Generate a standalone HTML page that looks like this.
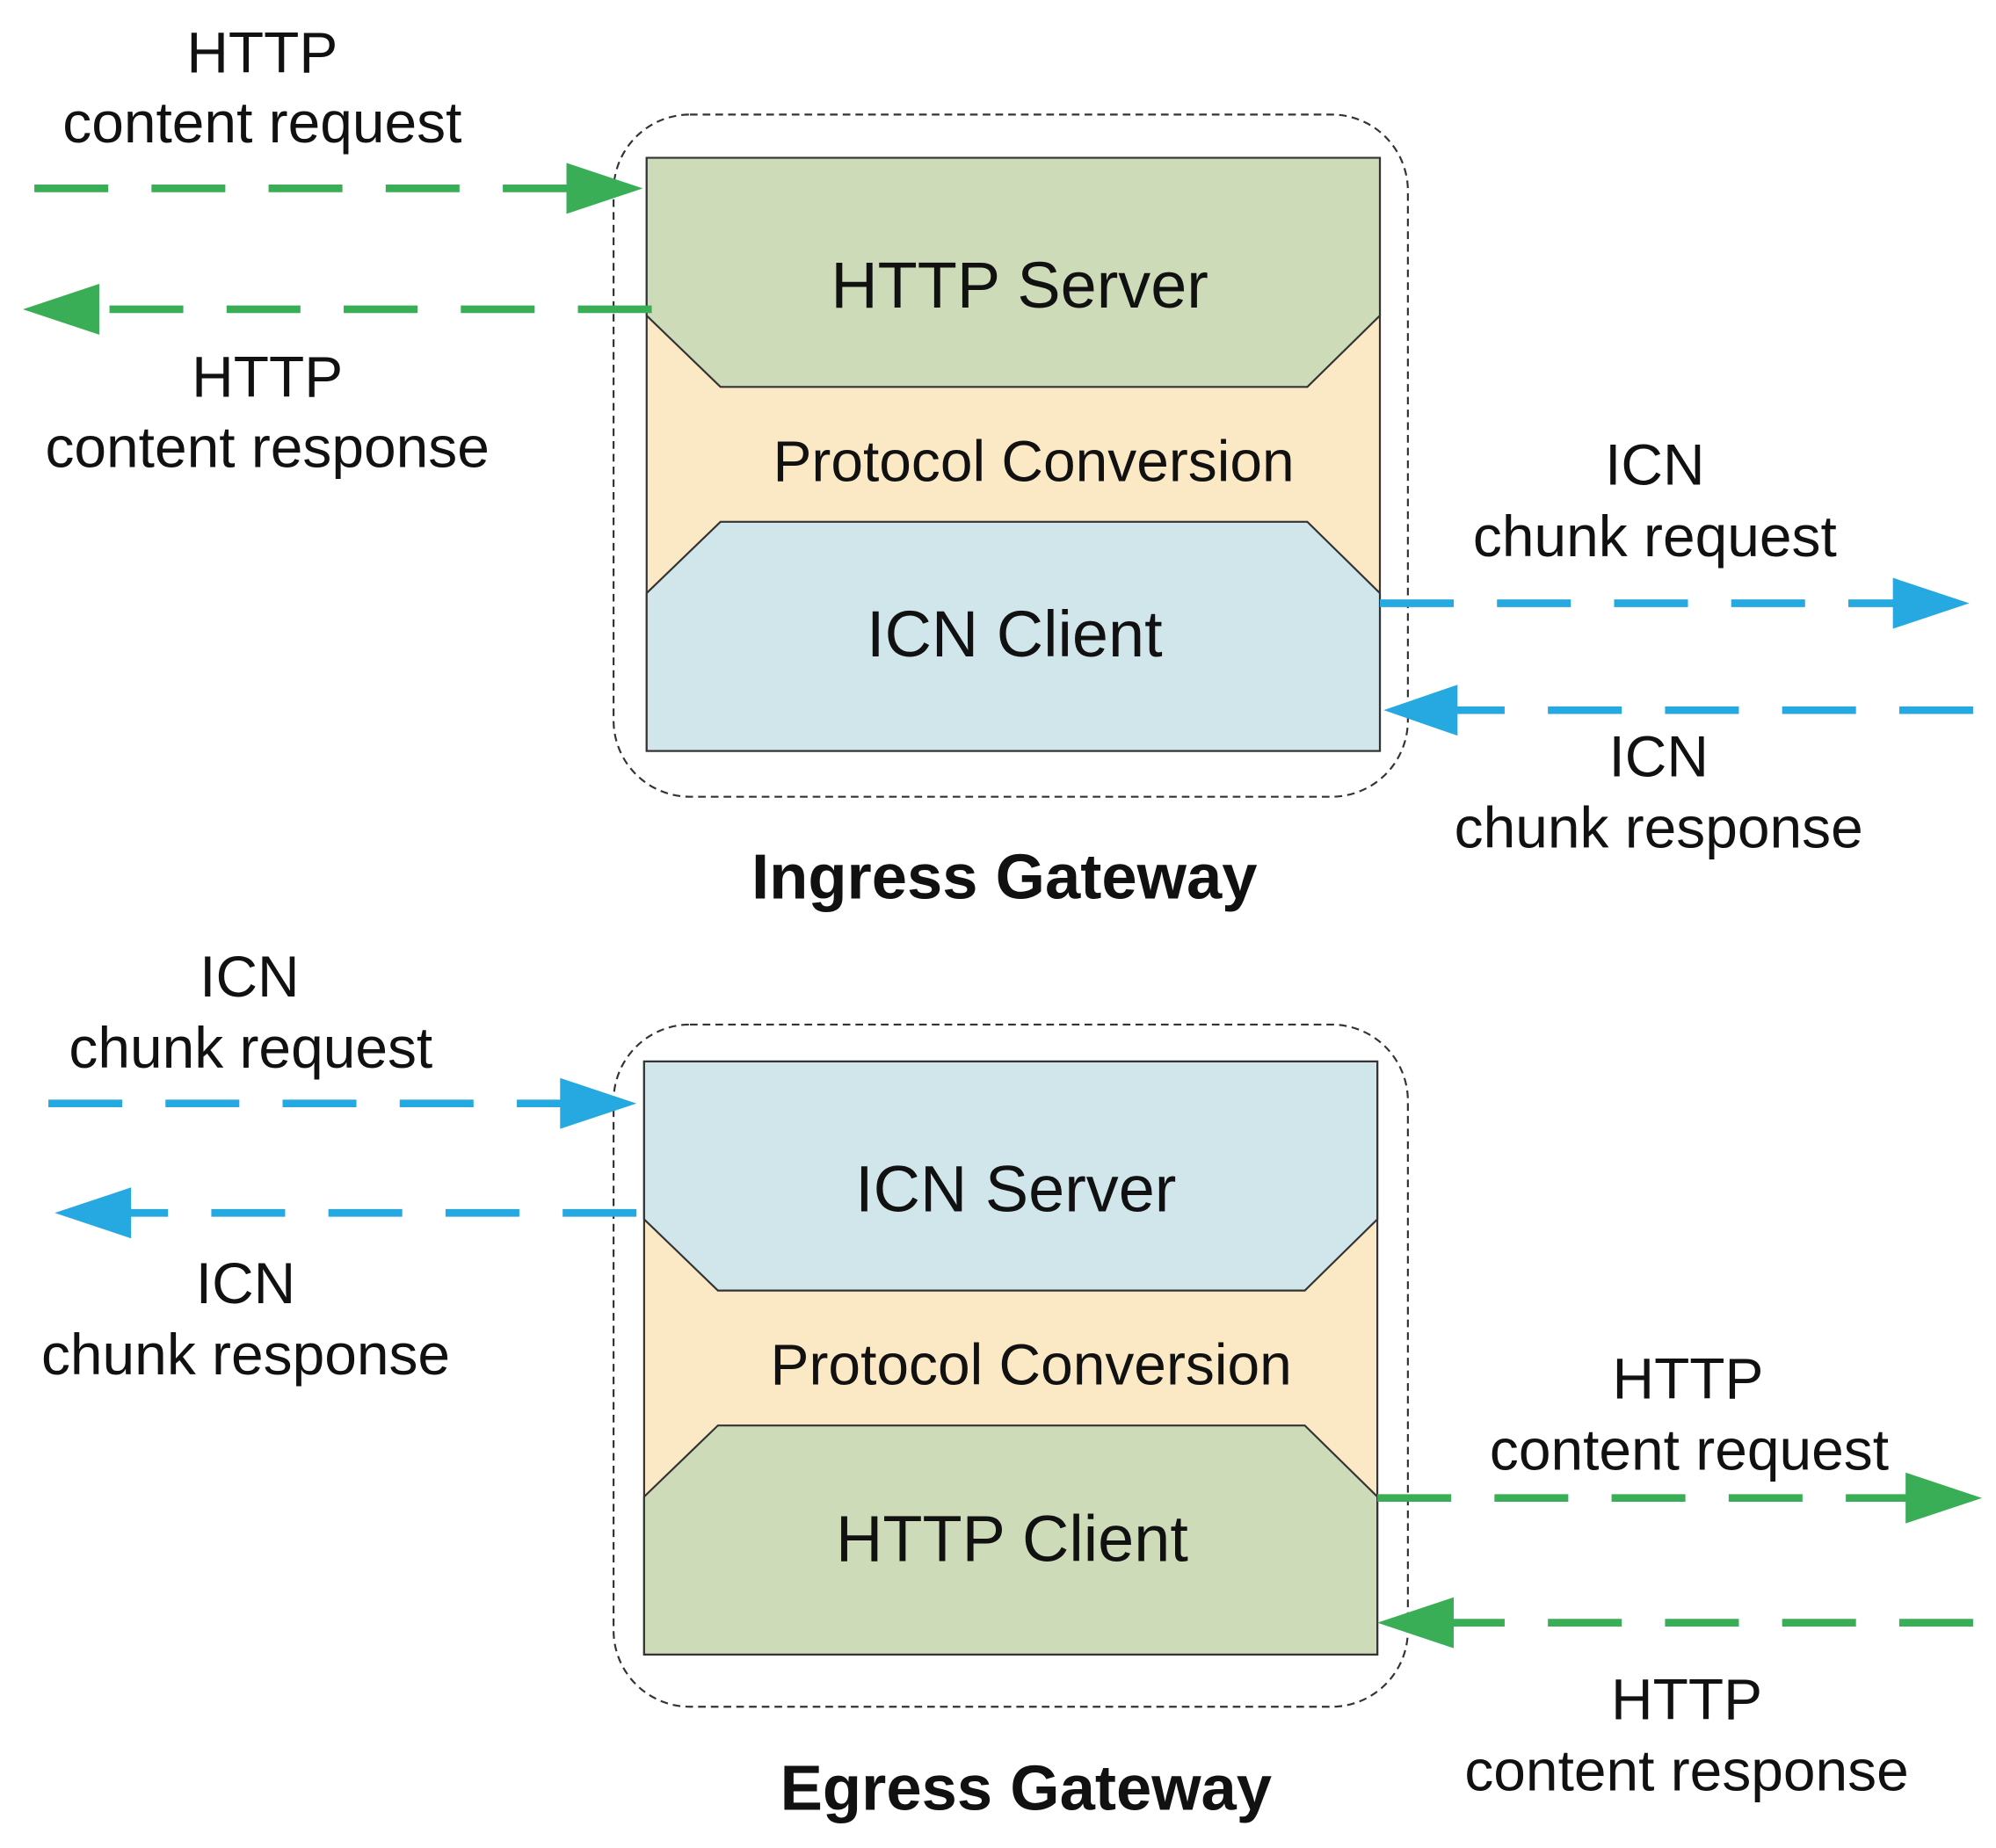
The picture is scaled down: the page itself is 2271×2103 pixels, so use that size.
<!DOCTYPE html>
<html><head><meta charset="utf-8"><style>html,body{margin:0;padding:0;background:#fff}svg{display:block}</style></head>
<body>
<svg width="2271" height="2103" viewBox="0 0 1568 1452" preserveAspectRatio="none" xmlns="http://www.w3.org/2000/svg" font-family="Liberation Sans, Arial, sans-serif">
<g fill="none" stroke="#333" stroke-width="1.5" stroke-dasharray="6,4">
<rect x="482" y="90" width="624" height="536" rx="60"/>
<rect x="482" y="805" width="624" height="536" rx="60"/>
</g>
<rect x="508" y="124" width="576" height="466" fill="#fbe8c4" stroke="#333" stroke-width="1.5"/>
<polygon points="508,124 1084,124 1084,248 1027,304 566,304 508,248" fill="#cddbb9" stroke="#333" stroke-width="1.5"/>
<polygon points="508,466 566,410 1027,410 1084,466 1084,590 508,590" fill="#d0e6eb" stroke="#333" stroke-width="1.5"/>
<rect x="506" y="834" width="576" height="466" fill="#fbe8c4" stroke="#333" stroke-width="1.5"/>
<polygon points="506,834 1082,834 1082,958 1025,1014 564,1014 506,958" fill="#d0e6eb" stroke="#333" stroke-width="1.5"/>
<polygon points="506,1176 564,1120 1025,1120 1082,1176 1082,1300 506,1300" fill="#cddbb9" stroke="#333" stroke-width="1.5"/>

<g fill="#111" text-anchor="middle" dominant-baseline="central">
<text x="801" y="224" font-size="51">HTTP Server</text>
<text x="812" y="362" font-size="45.5">Protocol Conversion</text>
<text x="797" y="498" font-size="51">ICN Client</text>
<text x="789" y="689" font-size="50" font-weight="bold">Ingress Gateway</text>
<text x="798" y="934" font-size="51">ICN Server</text>
<text x="810" y="1072" font-size="45.5">Protocol Conversion</text>
<text x="795" y="1209" font-size="51">HTTP Client</text>
<text x="806" y="1405" font-size="50" font-weight="bold">Egress Gateway</text>

<g font-size="45.5">
<text x="206" y="41">HTTP</text>
<text x="206" y="96">content request</text>
<text x="210" y="296">HTTP</text>
<text x="210" y="351">content response</text>
<text x="1300" y="365">ICN</text>
<text x="1300" y="421">chunk request</text>
<text x="1303" y="594">ICN</text>
<text x="1303" y="650">chunk response</text>
<text x="196" y="767">ICN</text>
<text x="197" y="823">chunk request</text>
<text x="193" y="1008">ICN</text>
<text x="193" y="1064">chunk response</text>
<text x="1326" y="1083">HTTP</text>
<text x="1327" y="1139">content request</text>
<text x="1325" y="1335">HTTP</text>
<text x="1325" y="1391">content response</text>
</g>
</g>

<g stroke-width="6" stroke-dasharray="58,34">
<line x1="27" y1="148" x2="448" y2="148" stroke="#39ae57"/>
<line x1="512" y1="243" x2="78" y2="243" stroke="#39ae57"/>
<line x1="1084" y1="474" x2="1490" y2="474" stroke="#26a9e0"/>
<line x1="1550" y1="558" x2="1143" y2="558" stroke="#26a9e0"/>
<line x1="38" y1="867" x2="443" y2="867" stroke="#26a9e0"/>
<line x1="500" y1="953" x2="101" y2="953" stroke="#26a9e0"/>
<line x1="1082" y1="1177" x2="1500" y2="1177" stroke="#39ae57"/>
<line x1="1550" y1="1275" x2="1140" y2="1275" stroke="#39ae57"/>
</g>
<g>
<polygon points="445,128 505,148 445,168" fill="#39ae57"/>
<polygon points="78,223 18,243 78,263" fill="#39ae57"/>
<polygon points="1487,454 1547,474 1487,494" fill="#26a9e0"/>
<polygon points="1145,538 1087,558 1145,578" fill="#26a9e0"/>
<polygon points="440,847 500,867 440,887" fill="#26a9e0"/>
<polygon points="103,933 43,953 103,973" fill="#26a9e0"/>
<polygon points="1497,1157 1557,1177 1497,1197" fill="#39ae57"/>
<polygon points="1142,1255 1082,1275 1142,1295" fill="#39ae57"/>
</g>
</svg>
</body></html>
